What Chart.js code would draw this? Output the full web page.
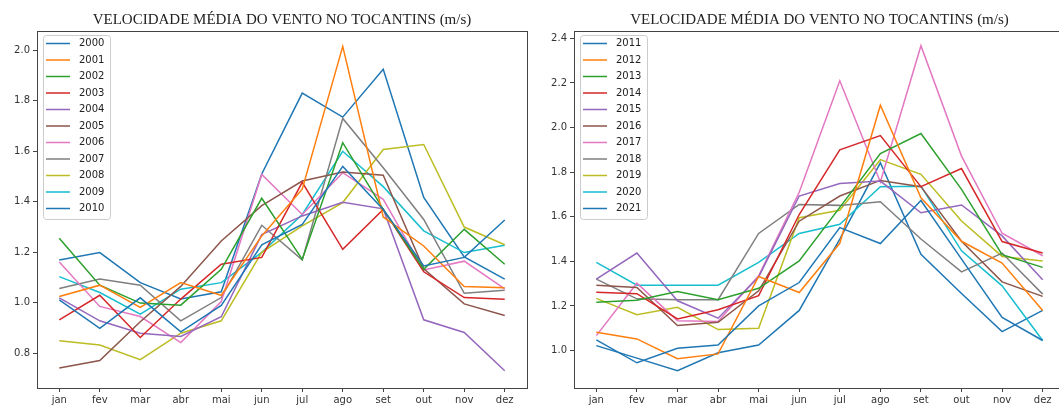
<!DOCTYPE html>
<html>
<head>
<meta charset="utf-8">
<script src="https://cdn.jsdelivr.net/npm/chart.js@4.4.1/dist/chart.umd.min.js"></script>
<style>
    html, body { margin: 0; padding: 0; background: #fff; overflow: hidden; width: 1059px; height: 408px; }
    canvas { position: absolute; top: 0; }
    #chartLeft { left: 0; }
    #chartRight { left: 537px; }
</style>
</head>
<body>
<canvas id="chartLeft" width="564" height="408"></canvas>
<canvas id="chartRight" width="565" height="408"></canvas>
<script>
// --- Data ---
const months = ['jan', 'fev', 'mar', 'abr', 'mai', 'jun', 'jul', 'ago', 'set', 'out', 'nov', 'dez'];
const chartTitle = 'VELOCIDADE MÉDIA DO VENTO NO TOCANTINS (m/s)';

const yearsLeft = ['2000', '2001', '2002', '2003', '2004', '2005', '2006', '2007', '2008', '2009', '2010'];
const v2000 = [1.012, 0.899, 1.020, 0.885, 0.990, 1.230, 1.310, 1.540, 1.370, 1.146, 1.180, 1.328];
const v2001 = [1.025, 1.070, 0.982, 1.080, 1.030, 1.265, 1.450, 2.015, 1.340, 1.225, 1.065, 1.060];
const v2002 = [1.256, 1.070, 0.999, 0.991, 1.133, 1.414, 1.172, 1.634, 1.370, 1.133, 1.291, 1.153];
const v2003 = [0.933, 1.030, 0.863, 1.015, 1.153, 1.180, 1.477, 1.212, 1.370, 1.123, 1.021, 1.014];
const v2004 = [1.020, 0.929, 0.880, 0.867, 0.945, 1.270, 1.344, 1.398, 1.372, 0.933, 0.883, 0.731];
const v2005 = [0.742, 0.772, 0.925, 1.065, 1.245, 1.385, 1.482, 1.518, 1.505, 1.135, 0.996, 0.950];
const v2006 = [1.162, 0.986, 0.946, 0.843, 1.005, 1.508, 1.350, 1.515, 1.410, 1.130, 1.165, 1.055];
const v2007 = [1.057, 1.094, 1.070, 0.929, 1.021, 1.307, 1.170, 1.730, 1.535, 1.330, 1.038, 1.050];
const v2008 = [0.850, 0.833, 0.775, 0.880, 0.929, 1.200, 1.305, 1.397, 1.607, 1.627, 1.300, 1.230];
const v2009 = [1.104, 1.041, 0.955, 1.054, 1.080, 1.200, 1.350, 1.600, 1.460, 1.285, 1.199, 1.228];
const v2010 = [1.170, 1.199, 1.080, 1.015, 1.044, 1.510, 1.830, 1.735, 1.925, 1.417, 1.182, 1.094];

const yearsRight = ['2011', '2012', '2013', '2014', '2015', '2016', '2017', '2018', '2019', '2020', '2021'];
const v2011 = [1.048, 0.945, 1.010, 1.025, 1.200, 1.305, 1.551, 1.480, 1.673, 1.410, 1.149, 1.045];
const v2012 = [1.082, 1.052, 0.963, 0.985, 1.332, 1.260, 1.481, 2.100, 1.685, 1.490, 1.392, 1.180];
const v2013 = [1.216, 1.226, 1.265, 1.228, 1.279, 1.402, 1.642, 1.883, 1.973, 1.723, 1.430, 1.373];
const v2014 = [1.261, 1.255, 1.142, 1.183, 1.246, 1.610, 1.900, 1.964, 1.735, 1.816, 1.489, 1.437];
const v2015 = [1.320, 1.437, 1.223, 1.145, 1.330, 1.693, 1.749, 1.760, 1.618, 1.653, 1.514, 1.317];
const v2016 = [1.293, 1.283, 1.112, 1.127, 1.268, 1.580, 1.693, 1.763, 1.735, 1.490, 1.308, 1.243];
const v2017 = [1.067, 1.302, 1.134, 1.130, 1.335, 1.710, 2.210, 1.756, 2.367, 1.872, 1.526, 1.425];
const v2018 = [1.320, 1.232, 1.228, 1.228, 1.525, 1.655, 1.651, 1.667, 1.500, 1.353, 1.437, 1.253];
const v2019 = [1.234, 1.161, 1.194, 1.094, 1.100, 1.596, 1.629, 1.856, 1.790, 1.581, 1.422, 1.402];
const v2020 = [1.395, 1.293, 1.293, 1.293, 1.395, 1.525, 1.566, 1.735, 1.737, 1.447, 1.290, 1.045];
const v2021 = [1.022, 0.966, 0.910, 0.990, 1.025, 1.180, 1.500, 1.842, 1.432, 1.256, 1.085, 1.180];

const ticksLeft = [0.8, 1.0, 1.2, 1.4, 1.6, 1.8, 2.0];
const ticksRight = [1.0, 1.2, 1.4, 1.6, 1.8, 2.0, 2.2, 2.4];

// matplotlib tab10 cycle
const palette = ['#1f77b4', '#ff7f0e', '#2ca02c', '#d62728', '#9467bd', '#8c564b',
                 '#e377c2', '#7f7f7f', '#bcbd22', '#17becf'];

const axisColor = '#444';
const tickFont = { family: 'DejaVu Sans', size: 10 };

// --- Legend drawn inside the plot, on top of the lines ---
const boxLegend = {
    id: 'boxLegend',
    afterDatasetsDraw(chart) {
        const { ctx, chartArea } = chart;
        const sets = chart.data.datasets;
        const left = chartArea.left + 6;
        const top = chartArea.top + 4;
        const rowH = 16.5;
        const w = 67;
        const h = 8.5 + (sets.length - 1) * rowH + 10.5;

        ctx.save();
        ctx.beginPath();
        ctx.roundRect(left + 0.5, top + 0.5, w, h, 3);
        ctx.fillStyle = 'rgba(255, 255, 255, 0.8)';
        ctx.fill();
        ctx.strokeStyle = '#cccccc';
        ctx.lineWidth = 1;
        ctx.stroke();

        ctx.font = '10px "DejaVu Sans"';
        ctx.textBaseline = 'middle';
        ctx.fillStyle = '#222';
        sets.forEach((ds, i) => {
            const y = top + 8.5 + i * rowH;
            ctx.beginPath();
            ctx.moveTo(left + 3, y);
            ctx.lineTo(left + 27, y);
            ctx.strokeStyle = ds.borderColor;
            ctx.lineWidth = 1.5;
            ctx.stroke();
            ctx.fillText(ds.label, left + 36, y);
        });
        ctx.restore();
    }
};

function makeChart(canvasId, years, series, yTicks, yMin, yMax) {
    const datasets = years.map((year, i) => ({
        label: year,
        data: series[i].map((v, m) => ({ x: m, y: v })),
        borderColor: palette[i % palette.length],
        backgroundColor: palette[i % palette.length],
        borderWidth: 1.5,
        pointRadius: 0,
        tension: 0
    }));

    // dummy axes give the top and right spines
    const spine = (position, size) => ({
        type: 'linear',
        position,
        display: true,
        grid: { display: false },
        border: { display: true, color: axisColor, width: 1 },
        ticks: { display: false },
        afterFit: (scale) => {
            if (position === 'top') scale.height = size; else scale.width = size;
        }
    });

    return new Chart(document.getElementById(canvasId).getContext('2d'), {
        type: 'line',
        data: { datasets },
        options: {
            responsive: false,
            animation: false,
            layout: { padding: 0 },
            scales: {
                x: {
                    type: 'linear',
                    min: -0.55,
                    max: 11.55,
                    afterBuildTicks: (scale) => { scale.ticks = months.map((m, i) => ({ value: i })); },
                    afterFit: (scale) => { scale.height = 20; },
                    grid: { display: true, drawOnChartArea: false, drawTicks: true, tickLength: 4, color: axisColor },
                    border: { display: true, color: axisColor, width: 1 },
                    ticks: {
                        color: '#333',
                        font: tickFont,
                        padding: 2,
                        autoSkip: false,
                        maxRotation: 0,
                        callback: (v) => months[v]
                    }
                },
                y: {
                    type: 'linear',
                    min: yMin,
                    max: yMax,
                    afterBuildTicks: (scale) => { scale.ticks = yTicks.map(v => ({ value: v })); },
                    afterFit: (scale) => { scale.width = 37; },
                    grid: { display: true, drawOnChartArea: false, drawTicks: true, tickLength: 4, color: axisColor },
                    border: { display: true, color: axisColor, width: 1 },
                    ticks: {
                        color: '#333',
                        font: tickFont,
                        padding: 3,
                        callback: (v) => v.toFixed(1)
                    }
                },
                xTop: spine('top', 0),
                yRight: spine('right', 37)
            },
            plugins: {
                legend: { display: false },
                tooltip: { enabled: false },
                title: {
                    display: true,
                    text: chartTitle,
                    color: '#222',
                    font: { family: 'Liberation Serif', size: 15, weight: 'normal' },
                    padding: { top: 11, bottom: 2 }
                }
            }
        },
        plugins: [boxLegend]
    });
}

makeChart('chartLeft', yearsLeft,
    [v2000, v2001, v2002, v2003, v2004, v2005, v2006, v2007, v2008, v2009, v2010],
    ticksLeft, 0.663, 2.076);

makeChart('chartRight', yearsRight,
    [v2011, v2012, v2013, v2014, v2015, v2016, v2017, v2018, v2019, v2020, v2021],
    ticksRight, 0.832, 2.433);
</script>
</body>
</html>
